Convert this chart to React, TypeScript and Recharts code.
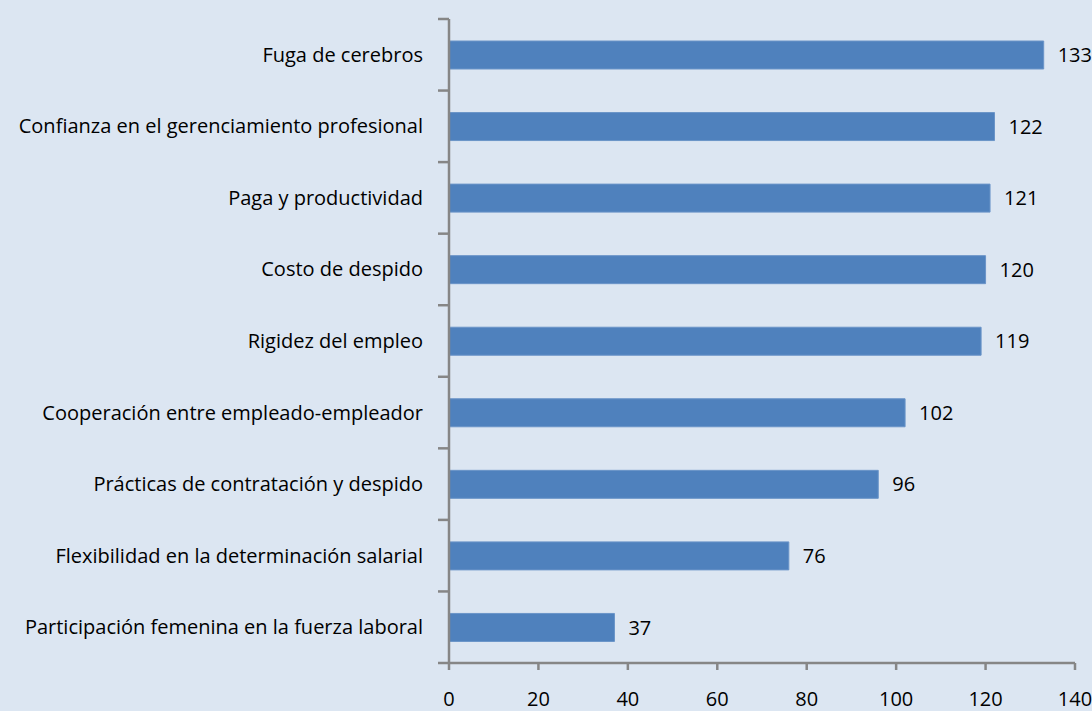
import { BarChart, Bar, XAxis, YAxis, LabelList } from "recharts"

const categories = [
  "Fuga de cerebros",
  "Confianza en el gerenciamiento profesional",
  "Paga y productividad",
  "Costo de despido",
  "Rigidez del empleo",
  "Cooperación entre empleado-empleador",
  "Prácticas de contratación  y despido",
  "Flexibilidad en la determinación salarial",
  "Participación femenina en la fuerza laboral",
]
const values = [133, 122, 121, 120, 119, 102, 96, 76, 37]
const xTicks = [0, 20, 40, 60, 80, 100, 120, 140]

const data = categories.map((name, i) => ({ name, value: values[i] }))

const FONT = "'Open Sans', sans-serif"
const AXIS = "#868686"

// label at band center, tick mark at band boundary (Excel style)
function CategoryTick(props: any) {
  const { x, y, payload, index } = props
  const half = payload?.offset ?? 0
  const last = index === categories.length - 1
  return (
    <g>
      <line x1={x - 11} x2={x} y1={y - half} y2={y - half} stroke={AXIS} strokeWidth={2.5} />
      {last && <line x1={x - 11} x2={x} y1={y + half} y2={y + half} stroke={AXIS} strokeWidth={2.5} />}
      <text x={x - 26} y={y} dy="0.35em" textAnchor="end" fill="#000" fontSize={20} fontFamily={FONT}>
        {payload.value}
      </text>
    </g>
  )
}

export default function App() {
  return (
    <div style={{ position: "absolute", left: 0, top: 0, width: 1092, height: 711, background: "#dce6f2" }}>
      <BarChart
        layout="vertical"
        width={1092}
        height={711}
        data={data}
        margin={{ top: 19, right: 17, left: 0, bottom: 0 }}
        barSize={28}
      >
        <XAxis
          type="number"
          domain={[0, 140]}
          ticks={xTicks}
          height={48}
          tickSize={7}
          tickMargin={22}
          stroke={AXIS}
          strokeWidth={2.5}
          tick={{ fill: "#000", fontSize: 20, fontFamily: FONT }}
        />
        <YAxis
          type="category"
          dataKey="name"
          width={449}
          stroke={AXIS}
          strokeWidth={2.5}
          tickLine={false}
          tickSize={0}
          tickMargin={0}
          tick={<CategoryTick />}
          interval={0}
        />
        <Bar dataKey="value" fill="#4f81bd" stroke="#6a94c8" strokeWidth={1} isAnimationActive={false}>
          <LabelList dataKey="value" position="right" offset={14} fill="#000" fontSize={20} fontFamily={FONT} />
        </Bar>
      </BarChart>
    </div>
  )
}
